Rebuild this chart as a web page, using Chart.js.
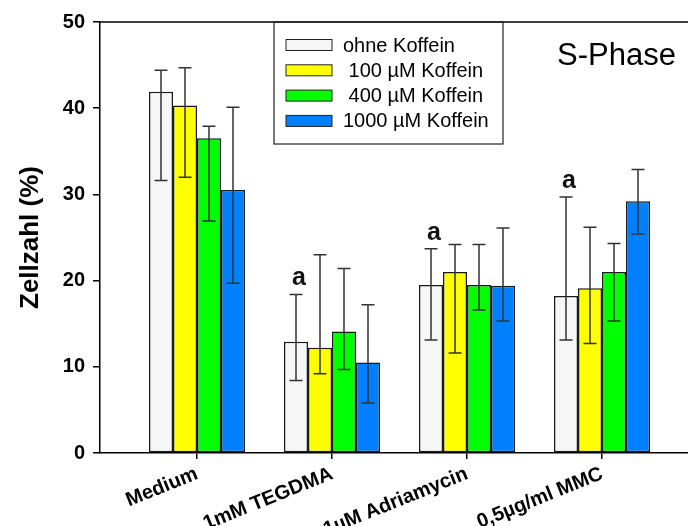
<!DOCTYPE html>
<html>
<head>
<meta charset="utf-8">
<script src="https://cdn.jsdelivr.net/npm/chart.js@4"></script>
<style>
html,body{margin:0;padding:0;background:#fff;overflow:hidden;}
#wrap{width:688px;height:526px;}
</style>
</head>
<body>
<div id="wrap"><canvas id="c" width="688" height="526"></canvas></div>
<script>
const categories = ['Medium', '1mM TEGDMA', '1µM Adriamycin', '0,5µg/ml MMC'];
const seriesNames = ['ohne Koffein', ' 100 µM Koffein', ' 400 µM Koffein', '1000 µM Koffein'];
const ohne   = [41.9, 12.9, 19.5, 18.2];
const k100   = [40.3, 12.2, 21.0, 19.1];
const k400   = [36.5, 14.1, 19.5, 21.0];
const k1000  = [30.5, 10.5, 19.4, 29.2];
const ohneHi  = [44.4, 18.4, 23.7, 29.7];
const ohneLo  = [31.6, 8.4, 13.1, 13.1];
const k100Hi  = [44.7, 23.0, 24.2, 26.2];
const k100Lo  = [32.0, 9.2, 11.6, 12.7];
const k400Hi  = [37.9, 21.4, 24.2, 24.3];
const k400Lo  = [26.9, 9.7, 16.6, 15.3];
const k1000Hi = [40.1, 17.2, 26.1, 32.9];
const k1000Lo = [19.7, 5.8, 15.3, 25.4];
const sigLetters = ['', 'a', 'a', 'a'];
const yTicks = [0, 10, 20, 30, 40, 50];
const panelTitle = 'S-Phase';
const yTitle = 'Zellzahl (%)';

const colors = ['#f6f6f6', '#ffff00', '#00ff00', '#0080ff'];
const FONT = 'Arial, "Liberation Sans", sans-serif';
const values = [ohne, k100, k400, k1000];
const highs = [ohneHi, k100Hi, k400Hi, k1000Hi];
const lows = [ohneLo, k100Lo, k400Lo, k1000Lo];

const datasets = values.map((arr, d) => ({
  label: seriesNames[d],
  data: arr.map((v, i) => ({x: i, y: v})),
  backgroundColor: colors[d],
  borderColor: '#1a1a1a',
  borderWidth: 1.5,
  borderSkipped: false,
  categoryPercentage: 0.711,
  barPercentage: 1.0,
  hi: highs[d],
  lo: lows[d]
}));

const extras = {
  id: 'extras',
  afterDatasetsDraw(chart) {
    const ctx = chart.ctx;
    const y = chart.scales.y;
    const a = chart.chartArea;
    ctx.save();
    // error bars
    chart.data.datasets.forEach((ds, d) => {
      const meta = chart.getDatasetMeta(d);
      meta.data.forEach((el, i) => {
        const x = el.x;
        const yh = y.getPixelForValue(ds.hi[i]);
        const yl = y.getPixelForValue(ds.lo[i]);
        ctx.strokeStyle = '#333';
        ctx.lineWidth = 1.5;
        ctx.beginPath();
        ctx.moveTo(x, yh); ctx.lineTo(x, yl);
        ctx.moveTo(x - 6.5, yh); ctx.lineTo(x + 6.5, yh);
        ctx.moveTo(x - 6.5, yl); ctx.lineTo(x + 6.5, yl);
        ctx.stroke();
      });
    });
    // significance letters
    const m0 = chart.getDatasetMeta(0);
    ctx.fillStyle = '#111';
    ctx.font = 'bold 25px ' + FONT;
    ctx.textAlign = 'center';
    ctx.textBaseline = 'alphabetic';
    sigLetters.forEach((t, i) => {
      if (!t) return;
      const el = m0.data[i];
      ctx.fillText(t, el.x + 3, y.getPixelForValue(ohneHi[i]) - 9);
    });
    // top frame line
    ctx.strokeStyle = '#000';
    ctx.lineWidth = 1.5;
    ctx.beginPath();
    ctx.moveTo(a.left, a.top); ctx.lineTo(a.right, a.top);
    ctx.stroke();
    // legend box
    const bx = 274, bw = 229, by = a.top, bh = 122;
    ctx.lineWidth = 1.2;
    ctx.strokeStyle = '#222';
    ctx.strokeRect(bx, by, bw, bh);
    ctx.font = '20px ' + FONT;
    ctx.textAlign = 'left';
    ctx.textBaseline = 'middle';
    seriesNames.forEach((n, d) => {
      const ry = 45 + d * 25.3;
      ctx.fillStyle = colors[d];
      ctx.fillRect(286, ry - 5.5, 46, 11);
      ctx.strokeStyle = '#222';
      ctx.lineWidth = 1;
      ctx.strokeRect(286, ry - 5.5, 46, 11);
      ctx.fillStyle = '#000';
      ctx.fillText(n, 343, ry + 1);
    });
    // panel title
    ctx.font = '31px ' + FONT;
    ctx.textBaseline = 'alphabetic';
    ctx.fillText(panelTitle, 557, 65);
    ctx.restore();
  }
};

new Chart(document.getElementById('c'), {
  type: 'bar',
  data: { datasets },
  options: {
    responsive: false,
    animation: false,
    devicePixelRatio: 1,
    layout: { padding: { top: 22, right: 0, bottom: 0, left: 0 } },
    plugins: { legend: { display: false }, tooltip: { enabled: false } },
    scales: {
      x: {
        type: 'linear',
        offset: false,
        min: -0.7185,
        max: 3.637,
        afterBuildTicks(scale) { scale.ticks = categories.map((c, i) => ({ value: i })); },
        afterFit(scale) { scale.height = 73; },
        grid: { offset: false, drawOnChartArea: false, drawTicks: true, tickLength: 6, color: '#000', lineWidth: 1.5 },
        border: { display: true, color: '#000', width: 1.5 },
        ticks: {
          autoSkip: false,
          minRotation: 22,
          maxRotation: 22,
          padding: 3,
          color: '#000',
          font: { family: FONT, size: 20, weight: 'bold' },
          callback: (v) => categories[v]
        }
      },
      y: {
        min: 0,
        max: 50,
        afterBuildTicks(scale) { scale.ticks = yTicks.map(v => ({ value: v })); },
        afterFit(scale) { scale.width = 100; },
        grid: { drawOnChartArea: false, drawTicks: true, tickLength: 7, color: '#000', lineWidth: 1.5 },
        border: { display: true, color: '#000', width: 1.5 },
        ticks: {
          padding: 8,
          color: '#000',
          font: { family: FONT, size: 20, weight: 'bold' }
        },
        title: {
          display: true,
          text: yTitle,
          color: '#000',
          font: { family: FONT, size: 26, weight: 'bold' },
          padding: { top: 15, bottom: 0 }
        }
      }
    }
  },
  plugins: [extras]
});
</script>
</body>
</html>
